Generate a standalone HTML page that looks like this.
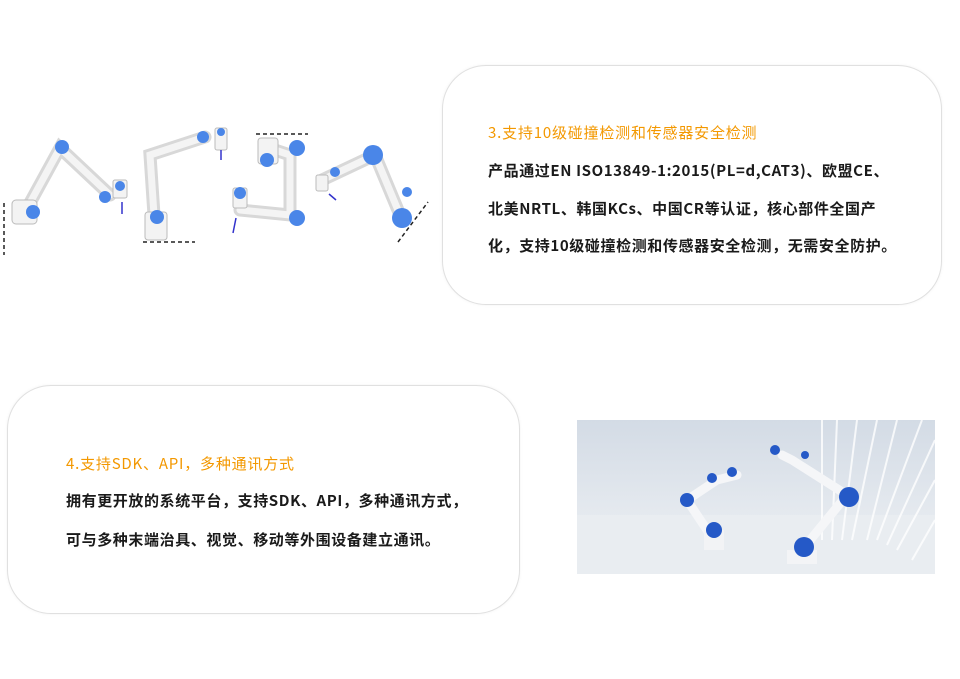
<!DOCTYPE html>
<html><head><meta charset="utf-8"><style>
body{margin:0;width:960px;height:679px;background:#fff;position:relative;overflow:hidden;font-family:"Noto Sans CJK SC","Liberation Sans",sans-serif;}
.card{position:absolute;border:1.5px solid #e0e0e0;border-radius:44px;background:#fff;box-shadow:0 0 3px rgba(0,0,0,0.05);}
.t{position:absolute;font-size:15px;letter-spacing:0.6px;white-space:nowrap;color:#1a1a1a;font-weight:bold;line-height:20px;}
.o{color:#f39800;font-weight:normal;letter-spacing:0.8px;}
</style></head><body>
<div class="card" style="left:442px;top:65px;width:498px;height:238px;"></div>
<div class="t o" style="left:488px;top:123px;">3.支持10级碰撞检测和传感器安全检测</div>
<div class="t" style="left:488px;top:161px;">产品通过EN ISO13849-1:2015(PL=d,CAT3)、欧盟CE、</div>
<div class="t" style="left:488px;top:199px;">北美NRTL、韩国KCs、中国CR等认证，核心部件全国产</div>
<div class="t" style="left:488px;top:236px;">化，支持10级碰撞检测和传感器安全检测，无需安全防护。</div>

<div class="card" style="left:7px;top:385px;width:511px;height:227px;"></div>
<div class="t o" style="left:66px;top:454px;">4.支持SDK、API，多种通讯方式</div>
<div class="t" style="left:66px;top:491px;">拥有更开放的系统平台，支持SDK、API，多种通讯方式，</div>
<div class="t" style="left:66px;top:530px;">可与多种末端治具、视觉、移动等外围设备建立通讯。</div>

<svg style="position:absolute;left:0;top:120px" width="440" height="140">
<g fill="none" stroke-dasharray="4,3" stroke="#222" stroke-width="1.5">
<path d="M4 83 V135"/><path d="M143 122 H195"/><path d="M256 14 H308"/><path d="M398 122 L428 82"/>
</g>
<g stroke="#d8d8d8" stroke-linecap="round" fill="none" stroke-width="13">
<path d="M25 92 L60 28 L110 75"/><path d="M155 110 L150 35 L205 17"/>
<path d="M275 30 L290 35 L290 95 L240 90"/><path d="M322 60 L375 35 L400 95"/>
</g>
<g stroke="#f4f4f4" stroke-linecap="round" fill="none" stroke-width="7">
<path d="M25 92 L60 28 L110 75"/><path d="M155 110 L150 35 L205 17"/>
<path d="M275 30 L290 35 L290 95 L240 90"/><path d="M322 60 L375 35 L400 95"/>
</g>
<g fill="#f3f3f3" stroke="#bbb">
<rect x="12" y="80" width="25" height="24" rx="4"/><rect x="113" y="60" width="14" height="18" rx="2"/>
<rect x="145" y="92" width="22" height="28" rx="3"/><rect x="215" y="8" width="12" height="22" rx="2"/>
<rect x="258" y="18" width="20" height="26" rx="3"/><rect x="233" y="68" width="14" height="20" rx="2"/>
<rect x="316" y="55" width="12" height="16" rx="2"/>
</g>
<g fill="#4a86e8">
<circle cx="33" cy="92" r="7"/><circle cx="62" cy="27" r="7"/><circle cx="105" cy="77" r="6"/><circle cx="120" cy="66" r="5"/>
<circle cx="157" cy="97" r="7"/><circle cx="203" cy="17" r="6"/><circle cx="221" cy="12" r="4"/>
<circle cx="267" cy="40" r="7"/><circle cx="297" cy="28" r="8"/><circle cx="297" cy="98" r="8"/><circle cx="240" cy="73" r="6"/>
<circle cx="373" cy="35" r="10"/><circle cx="402" cy="98" r="10"/><circle cx="335" cy="52" r="5"/><circle cx="407" cy="72" r="5"/>
</g>
<g stroke-width="1.5"><path d="M122 82 V94" stroke="#33c"/><path d="M221 30 V40" stroke="#33c"/><path d="M236 98 L233 113" stroke="#33c"/><path d="M329 74 L336 80" stroke="#33c"/></g>
</svg>

<svg style="position:absolute;left:577px;top:420px" width="358" height="154">
<defs><linearGradient id="bg" x1="0" y1="0" x2="0" y2="1"><stop offset="0" stop-color="#d3dbe5"/><stop offset="0.55" stop-color="#e3e8ee"/><stop offset="1" stop-color="#eef1f4"/></linearGradient></defs>
<rect width="358" height="154" fill="url(#bg)"/>
<rect x="0" y="95" width="358" height="59" fill="#e9edf1"/>
<g stroke="#fff" stroke-width="2" fill="none" opacity="0.8">
<path d="M245 0 V120"/><path d="M260 0 L255 120"/><path d="M280 0 L265 120"/><path d="M300 0 L275 120"/><path d="M320 0 L290 120"/><path d="M345 0 L300 120"/><path d="M358 20 L310 125"/><path d="M358 60 L320 130"/><path d="M358 100 L335 140"/>
</g>
<g stroke="#f5f6f8" stroke-width="9" stroke-linecap="round" fill="none">
<path d="M138 122 L110 80 L140 60 L160 55"/><path d="M225 130 L270 75 L215 40 L205 35"/>
</g>
<rect x="127" y="110" width="20" height="20" fill="#f2f3f5"/><rect x="210" y="130" width="30" height="14" fill="#f3f4f6"/>
<g fill="#2559c7">
<circle cx="110" cy="80" r="7"/><circle cx="137" cy="110" r="8"/><circle cx="135" cy="58" r="5"/><circle cx="155" cy="52" r="5"/>
<circle cx="272" cy="77" r="10"/><circle cx="227" cy="127" r="10"/><circle cx="198" cy="30" r="5"/><circle cx="228" cy="35" r="4"/>
</g>
</svg>
</body></html>
